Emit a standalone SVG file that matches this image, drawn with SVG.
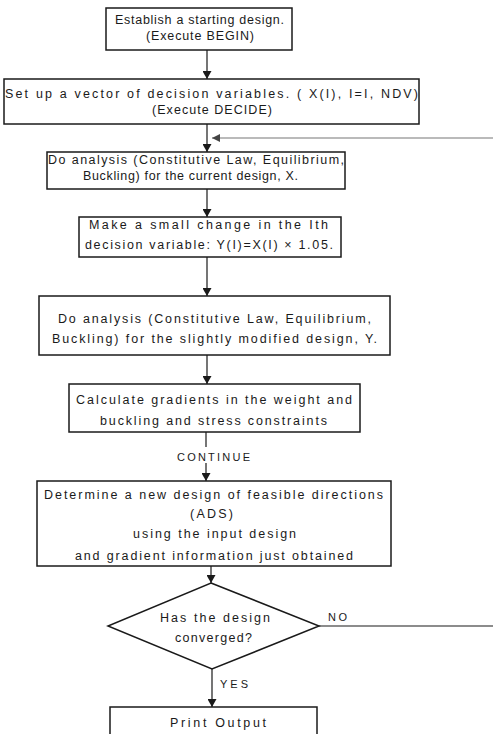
<svg xmlns="http://www.w3.org/2000/svg" width="493" height="734" viewBox="0 0 493 734">
<style>
  .box { fill: #fff; stroke: #1a1a1a; stroke-width: 1.5; }
  .t { font-family: "Liberation Sans", Arial, sans-serif; font-size: 12.5px; fill: #1a1a1a; }
  .s { font-size: 11px; }
  .c { stroke: #1a1a1a; stroke-width: 1.2; fill: none; }
  .fb { stroke: #777; stroke-width: 1.2; fill: none; }
</style>
<defs>
  <marker id="ah" markerUnits="userSpaceOnUse" markerWidth="8" markerHeight="9" refX="8" refY="4.5" orient="auto">
    <path d="M0,0 L8,4.5 L0,9 z" fill="#1a1a1a"/>
  </marker>
  <marker id="ahg" markerUnits="userSpaceOnUse" markerWidth="8" markerHeight="8" refX="8" refY="4" orient="auto">
    <path d="M0,0 L8,4 L0,8 z" fill="#444"/>
  </marker>
</defs>
<rect width="493" height="734" fill="#fff"/>

<g id="connectors">
  <line class="c" x1="207" y1="50" x2="207" y2="79" marker-end="url(#ah)"/>
  <line class="c" x1="207" y1="124" x2="207" y2="152" marker-end="url(#ah)"/>
  <line class="fb" x1="493" y1="138" x2="212" y2="138" marker-end="url(#ahg)"/>
  <line class="c" x1="207" y1="189" x2="207" y2="217" marker-end="url(#ah)"/>
  <line class="c" x1="207" y1="257" x2="207" y2="296" marker-end="url(#ah)"/>
  <line class="c" x1="207" y1="355" x2="207" y2="384" marker-end="url(#ah)"/>
  <line class="c" x1="206" y1="432" x2="206" y2="447"/>
  <text class="t s" x="177" y="460.5" textLength="73" lengthAdjust="spacing">CONTINUE</text>
  <line class="c" x1="206" y1="463" x2="206" y2="481" marker-end="url(#ah)"/>
  <line class="c" x1="211" y1="566" x2="211" y2="583" marker-end="url(#ah)"/>
  <line class="c" x1="319" y1="626" x2="493" y2="626"/>
  <text class="t s" x="328" y="620.5" textLength="19" lengthAdjust="spacing">NO</text>
  <line class="c" x1="212" y1="669" x2="212" y2="707" marker-end="url(#ah)"/>
  <text class="t s" x="220" y="688" textLength="28" lengthAdjust="spacing">YES</text>
</g>

<g id="n1">
  <rect class="box" x="106" y="8" width="186" height="42"/>
  <text class="t" x="115" y="23.5" textLength="169" lengthAdjust="spacing">Establish a starting design.</text>
  <text class="t" x="146" y="39.5" textLength="108" lengthAdjust="spacing">(Execute BEGIN)</text>
</g>

<g id="n2">
  <rect class="box" x="4" y="79" width="415" height="45"/>
  <text class="t" x="5" y="97.5" textLength="413" lengthAdjust="spacing">Set up a vector of decision variables. ( X(I), I=I, NDV)</text>
  <text class="t" x="152" y="113.5" textLength="120" lengthAdjust="spacing">(Execute DECIDE)</text>
</g>

<g id="n3">
  <rect class="box" x="47" y="152" width="298" height="37"/>
  <text class="t" x="48" y="164" textLength="296" lengthAdjust="spacing">Do analysis (Constitutive Law, Equilibrium,</text>
  <text class="t" x="83" y="179.5" textLength="215" lengthAdjust="spacing">Buckling) for the current design, X.</text>
</g>

<g id="n4">
  <rect class="box" x="79" y="217" width="262" height="40"/>
  <text class="t" x="89" y="228.5" textLength="239" lengthAdjust="spacing">Make a small change in the Ith</text>
  <text class="t" x="85" y="249" textLength="248" lengthAdjust="spacing">decision variable: Y(I)=X(I) × 1.05.</text>
</g>

<g id="n5">
  <rect class="box" x="39" y="296" width="351" height="59"/>
  <text class="t" x="58" y="322.5" textLength="313" lengthAdjust="spacing">Do analysis (Constitutive Law, Equilibrium,</text>
  <text class="t" x="52" y="343" textLength="325" lengthAdjust="spacing">Buckling) for the slightly modified design, Y.</text>
</g>

<g id="n6">
  <rect class="box" x="69" y="384" width="291" height="48"/>
  <text class="t" x="76" y="403.5" textLength="276" lengthAdjust="spacing">Calculate gradients in the weight and</text>
  <text class="t" x="100" y="425" textLength="227" lengthAdjust="spacing">buckling and stress constraints</text>
</g>

<g id="n7">
  <rect class="box" x="37" y="481" width="354" height="85"/>
  <text class="t" x="44" y="498.5" textLength="339" lengthAdjust="spacing">Determine a new design of feasible directions</text>
  <text class="t" x="190" y="517.5" textLength="43" lengthAdjust="spacing">(ADS)</text>
  <text class="t" x="133" y="538" textLength="163" lengthAdjust="spacing">using the input design</text>
  <text class="t" x="75" y="559.5" textLength="278" lengthAdjust="spacing">and gradient information just obtained</text>
</g>

<g id="n8">
  <polygon class="box" points="211,583 319,626 212,669 108,626"/>
  <text class="t" x="160" y="621.5" textLength="110" lengthAdjust="spacing">Has the design</text>
  <text class="t" x="175" y="641.5" textLength="77" lengthAdjust="spacing">converged?</text>
</g>

<g id="n9">
  <rect class="box" x="110" y="707" width="207" height="40"/>
  <text class="t" x="170" y="726.5" textLength="96" lengthAdjust="spacing">Print Output</text>
</g>
</svg>
